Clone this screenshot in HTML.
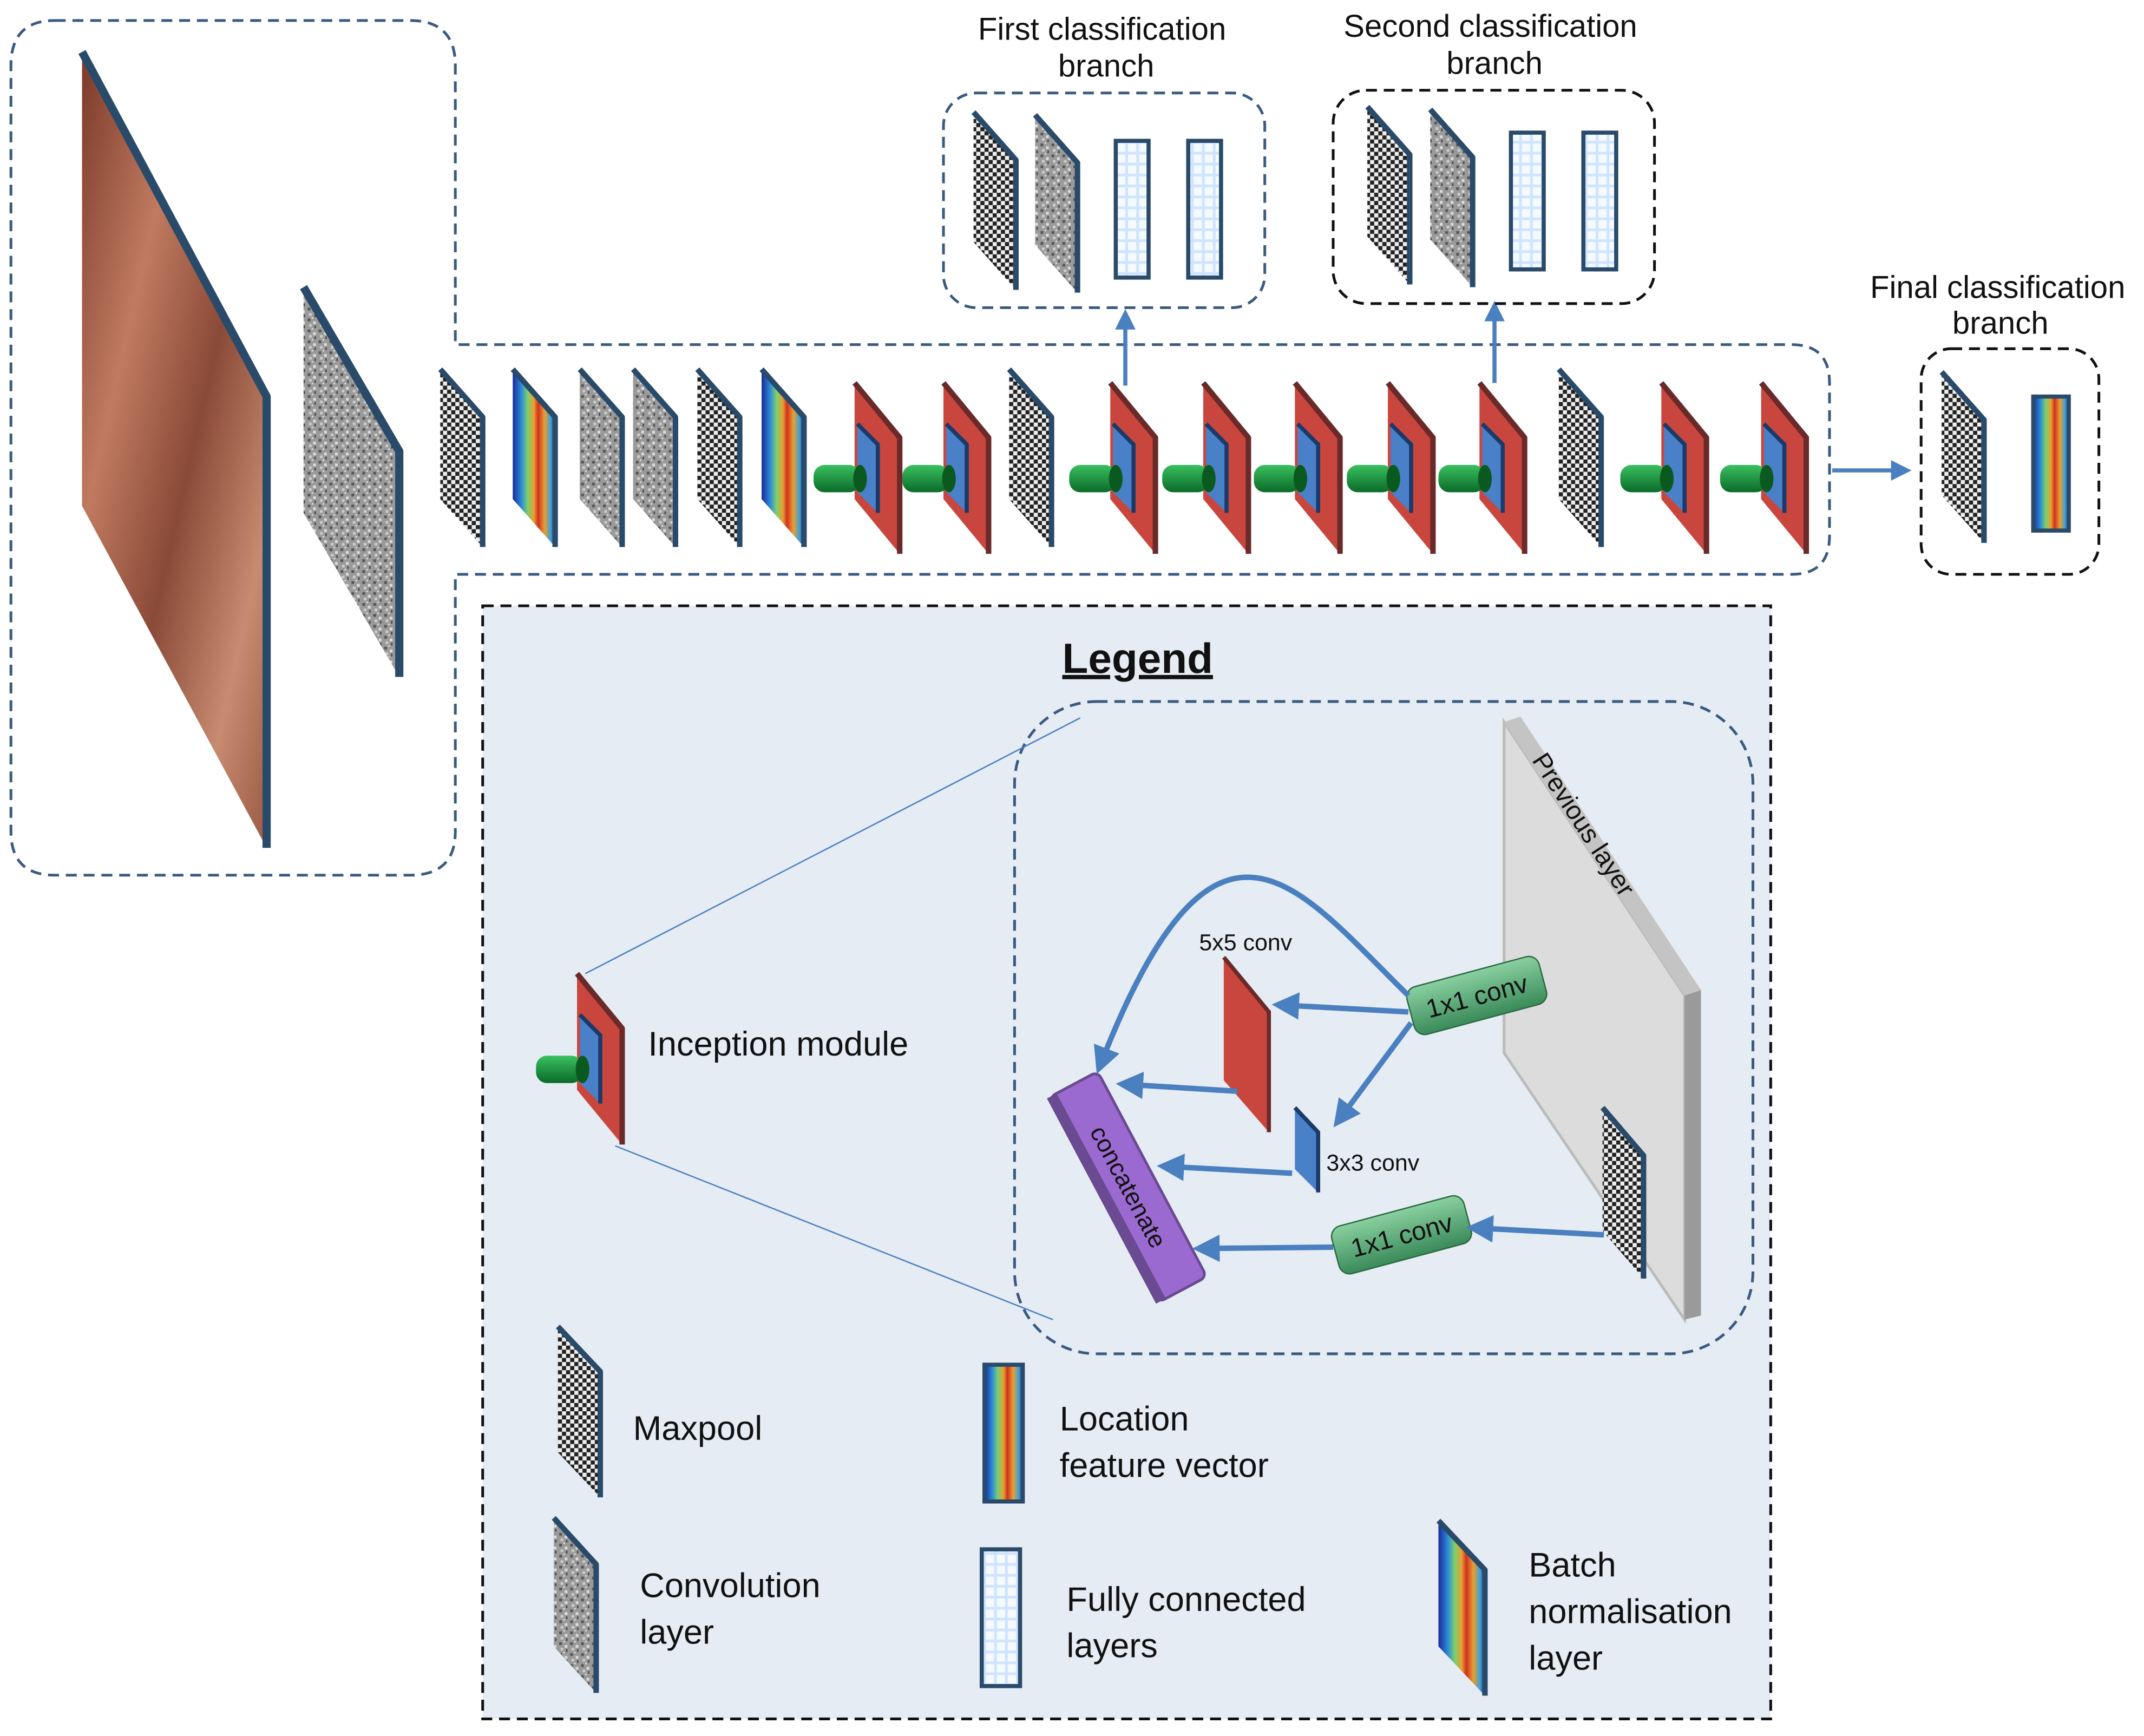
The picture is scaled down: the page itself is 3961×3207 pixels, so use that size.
<!DOCTYPE html>
<html><head><meta charset="utf-8">
<style>
html,body{margin:0;padding:0;background:#fff;}
svg{display:block;}
text{font-family:"Liberation Sans","DejaVu Sans",sans-serif;fill:#111;}
</style></head>
<body>
<svg id="s" width="3961" height="3207" viewBox="0 0 1568 1269.5" preserveAspectRatio="none" xmlns="http://www.w3.org/2000/svg">
<defs>
<pattern id="chk" width="6" height="6" patternUnits="userSpaceOnUse">
<rect width="6" height="6" fill="#eee"/><rect width="3" height="3" fill="#222"/><rect x="3" y="3" width="3" height="3" fill="#222"/>
</pattern>
<pattern id="noise" width="8" height="8" patternUnits="userSpaceOnUse">
<rect width="8" height="8" fill="#9a9a9a"/><rect x="1" y="1" width="2" height="2" fill="#555"/><rect x="5" y="3" width="2" height="2" fill="#ddd"/><rect x="2" y="5" width="2" height="2" fill="#ccc"/><rect x="6" y="6" width="1" height="2" fill="#444"/><rect x="4" y="0" width="1" height="1" fill="#eee"/>
</pattern>
<pattern id="fc" width="8" height="8" patternUnits="userSpaceOnUse">
<rect width="8" height="8" fill="#cfe4ff"/><rect x="1" y="1" width="6" height="6" fill="#f5faff"/>
</pattern>
<linearGradient id="jet" x1="0" y1="0" x2="1" y2="0">
<stop offset="0" stop-color="#1a2a9a"/><stop offset="0.2" stop-color="#2a8ad8"/><stop offset="0.35" stop-color="#7ad070"/><stop offset="0.5" stop-color="#e8a030"/><stop offset="0.6" stop-color="#d03020"/><stop offset="0.75" stop-color="#e8a030"/><stop offset="0.9" stop-color="#3aa0d8"/><stop offset="1" stop-color="#1a2a9a"/>
</linearGradient>
<linearGradient id="skin" x1="0" y1="0" x2="1" y2="1">
<stop offset="0" stop-color="#7a3a2a"/><stop offset="0.3" stop-color="#c07a60"/><stop offset="0.55" stop-color="#8a4a38"/><stop offset="0.8" stop-color="#c88a70"/><stop offset="1" stop-color="#9a5a44"/>
</linearGradient>
<linearGradient id="grn" x1="0" y1="0" x2="0" y2="1">
<stop offset="0" stop-color="#3ac060"/><stop offset="1" stop-color="#0a6a28"/>
</linearGradient>
<linearGradient id="grnbox" x1="0" y1="0" x2="0" y2="1">
<stop offset="0" stop-color="#8ad0a0"/><stop offset="1" stop-color="#3a8a5a"/>
</linearGradient>
<marker id="ar" markerWidth="5" markerHeight="5" refX="3" refY="2.5" orient="auto"><path d="M0,0 L5,2.5 L0,5 z" fill="#4a7fc0"/></marker>
</defs>

<!-- main dashed outline -->
<path d="M40,15 H300 Q333,15 333,48 V252 H1310 Q1338,252 1338,280 V392 Q1338,420 1310,420 H333 V608 Q333,640 300,640 H40 Q8,640 8,608 V48 Q8,15 40,15 Z" fill="none" stroke="#3a5a80" stroke-width="2" stroke-dasharray="8,5"/>

<!-- big image -->
<polygon points="60,38 195,290 195,620 60,370" fill="url(#skin)"/>
<polyline points="60,38 195,290 195,620" fill="none" stroke="#2a4a6a" stroke-width="6" stroke-linejoin="round"/>
<polygon points="222,210 292,330 292,495 222,375" fill="url(#noise)"/>
<polyline points="222,210 292,330 292,495" fill="none" stroke="#2a4a6a" stroke-width="6" stroke-linejoin="round"/>

<g id="row"></g>

<!-- arrows -->
<line x1="823" y1="282" x2="823" y2="232" stroke="#4a7fc0" stroke-width="3" marker-end="url(#ar)"/>
<line x1="1093" y1="280" x2="1093" y2="226" stroke="#4a7fc0" stroke-width="3" marker-end="url(#ar)"/>
<line x1="1340" y1="344" x2="1392" y2="344" stroke="#4a7fc0" stroke-width="3" marker-end="url(#ar)"/>

<!-- branch boxes -->
<rect x="690" y="68" width="235" height="157" rx="24" fill="none" stroke="#3a5a80" stroke-width="2" stroke-dasharray="8,5"/>
<rect x="975" y="66" width="235" height="156" rx="24" fill="none" stroke="#111" stroke-width="2" stroke-dasharray="8,5"/>
<rect x="1405" y="255" width="130" height="165" rx="22" fill="none" stroke="#111" stroke-width="2" stroke-dasharray="8,5"/>
<text x="806" y="29" font-size="23" text-anchor="middle">First classification</text>
<text x="809" y="56" font-size="23" text-anchor="middle">branch</text>
<text x="1090" y="27" font-size="23" text-anchor="middle">Second classification</text>
<text x="1093" y="54" font-size="23" text-anchor="middle">branch</text>
<text x="1461" y="218" font-size="23" text-anchor="middle">Final classification</text>
<text x="1463" y="244" font-size="23" text-anchor="middle">branch</text>

<!-- legend -->
<rect x="353" y="443" width="942" height="814" fill="#e6ecf4" stroke="#111" stroke-width="2" stroke-dasharray="8,5"/>
<text x="832" y="492" font-size="31" font-weight="bold" text-anchor="middle" text-decoration="underline">Legend</text>
<rect x="742" y="513" width="540" height="477" rx="60" fill="none" stroke="#3a5a80" stroke-width="2" stroke-dasharray="8,5"/>
<line x1="428" y1="712" x2="790" y2="525" stroke="#4a7fc0" stroke-width="1"/>
<line x1="450" y1="838" x2="770" y2="965" stroke="#4a7fc0" stroke-width="1"/>
<text x="474" y="772" font-size="25">Inception module</text>

<!-- previous layer -->
<polygon points="1100,528 1232,728 1232,965 1100,770" fill="#dcdcdc" stroke="#bbb" stroke-width="2"/>
<polygon points="1100,528 1112,524 1244,724 1232,728" fill="#c4c4c4"/>
<polygon points="1232,728 1244,724 1244,962 1232,965" fill="#9a9a9a"/>
<text x="0" y="0" font-size="19" transform="translate(1120,556) rotate(57)">Previous layer</text>

<g id="leg"></g>

<!-- green 1x1 boxes -->
<g transform="translate(1080,728) rotate(-15)"><rect x="-50" y="-18" width="100" height="36" rx="8" fill="url(#grnbox)" stroke="#2a6a40"/><text x="0" y="7" font-size="19" text-anchor="middle">1x1 conv</text></g>
<g transform="translate(1025,903) rotate(-15)"><rect x="-50" y="-18" width="100" height="36" rx="8" fill="url(#grnbox)" stroke="#2a6a40"/><text x="0" y="7" font-size="19" text-anchor="middle">1x1 conv</text></g>
<!-- concatenate -->
<g transform="translate(825,868) rotate(62)"><rect x="-85" y="-20" width="170" height="40" rx="5" fill="#9a6ad0" stroke="#6a4a90" stroke-width="2"/><rect x="-85" y="14" width="170" height="8" fill="#6a4a90"/><text x="0" y="6" font-size="18" text-anchor="middle">concatenate</text></g>
<text x="877" y="695" font-size="17">5x5 conv</text>
<text x="970" y="856" font-size="17">3x3 conv</text>

<!-- legend arrows -->
<g stroke="#4a7fc0" stroke-width="4" fill="none" marker-end="url(#ar)">
<line x1="1030" y1="740" x2="938" y2="735"/>
<line x1="1032" y1="748" x2="980" y2="818"/>
<path d="M1030,728 C950,650 890,560 805,778"/>
<line x1="905" y1="798" x2="824" y2="793"/>
<line x1="945" y1="858" x2="854" y2="853"/>
<line x1="975" y1="912" x2="880" y2="913"/>
<line x1="1173" y1="903" x2="1080" y2="898"/>
</g>

<text x="463" y="1053" font-size="25">Maxpool</text>
<text x="775" y="1046" font-size="25">Location</text>
<text x="775" y="1080" font-size="25">feature vector</text>
<text x="468" y="1168" font-size="25">Convolution</text>
<text x="468" y="1202" font-size="25">layer</text>
<text x="780" y="1178" font-size="25">Fully connected</text>
<text x="780" y="1212" font-size="25">layers</text>
<text x="1118" y="1153" font-size="25">Batch</text>
<text x="1118" y="1187" font-size="25">normalisation</text>
<text x="1118" y="1221" font-size="25">layer</text>
</svg>
<script>
const NS="http://www.w3.org/2000/svg";
function el(p,t,a){const e=document.createElementNS(NS,t);for(const k in a)e.setAttribute(k,a[k]);p.appendChild(e);return e;}
function slab(p,x,y,w,h,sk,fill){
  el(p,"polygon",{points:`${x},${y} ${x+w},${y+sk} ${x+w},${y+sk+h} ${x},${y+h}`,fill:fill});
  el(p,"polyline",{points:`${x},${y} ${x+w},${y+sk} ${x+w},${y+sk+h}`,fill:"none",stroke:"#2a4a6a","stroke-width":4,"stroke-linejoin":"round"});
}
function incep(p,x,y){ // x left of red, y top
  el(p,"polygon",{points:`${x},${y} ${x+33},${y+40} ${x+33},${y+125} ${x},${y+85}`,fill:"#c9463e"});
  el(p,"polyline",{points:`${x},${y} ${x+33},${y+40} ${x+33},${y+125}`,fill:"none",stroke:"#6a2a2a","stroke-width":4,"stroke-linejoin":"round"});
  el(p,"polygon",{points:`${x+2},${y+30} ${x+17},${y+45} ${x+17},${y+95} ${x+2},${y+80}`,fill:"#4a80c8"});
  el(p,"polyline",{points:`${x+2},${y+30} ${x+17},${y+45} ${x+17},${y+95}`,fill:"none",stroke:"#1a3a6a","stroke-width":3});
  el(p,"rect",{x:x-30,y:y+60,width:34,height:20,rx:8,fill:"url(#grn)"});
  el(p,"ellipse",{cx:x+4,cy:y+70,rx:5,ry:10,fill:"#0a5a20"});
}
const row=document.getElementById("row");
const items=[["m",322],["b",375],["c",424],["c",463],["m",510],["b",557],["i",625],["i",690],["m",738],["i",812],["i",880],["i",947],["i",1015],["i",1082],["m",1140],["i",1215],["i",1288]];
for(const [t,x] of items){
  if(t==="i") incep(row,x,280);
  else slab(row,x,270,31,95,35,t==="m"?"url(#chk)":t==="c"?"url(#noise)":"url(#jet)");
}
// branches
slab(row,712,82,31,95,35,"url(#chk)");slab(row,757,84,31,95,35,"url(#noise)");
slab(row,1000,78,31,95,35,"url(#chk)");slab(row,1046,80,31,95,35,"url(#noise)");
function fcv(p,x,y,w,h,f){el(p,"rect",{x:x,y:y,width:w,height:h,fill:f,stroke:"#2a4a6a","stroke-width":3});}
fcv(row,816,103,24,100,"url(#fc)");fcv(row,869,103,24,100,"url(#fc)");
fcv(row,1105,97,24,100,"url(#fc)");fcv(row,1158,97,24,100,"url(#fc)");
slab(row,1420,272,31,90,35,"url(#chk)");
fcv(row,1487,290,26,98,"url(#jet)");
// legend
const lg=document.getElementById("leg");
incep(lg,422,712);
slab(lg,1172,810,30,90,35,"url(#chk)");
el(lg,"polygon",{points:"895,700 928,740 928,828 895,790",fill:"#c9463e"});
el(lg,"polyline",{points:"895,700 928,740 928,828",fill:"none",stroke:"#6a2a2a","stroke-width":3});
el(lg,"polygon",{points:"947,810 964,828 964,872 947,855",fill:"#4a80c8"});
el(lg,"polyline",{points:"947,810 964,828 964,872",fill:"none",stroke:"#1a3a6a","stroke-width":3});
slab(lg,408,970,31,92,33,"url(#chk)");
slab(lg,405,1110,31,94,34,"url(#noise)");
slab(lg,1052,1112,34,92,36,"url(#jet)");
fcv(lg,720,998,28,100,"url(#jet)");
fcv(lg,718,1133,28,100,"url(#fc)");
</script>
</body></html>
